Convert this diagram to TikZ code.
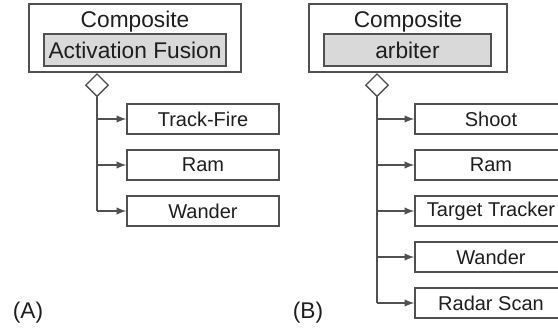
\documentclass[tikz,border=0pt]{standalone}
\usepackage{fontspec}
\setmainfont{Liberation Sans}
\usepackage{xcolor}
\usetikzlibrary{arrows}
\usetikzlibrary{shapes.geometric}
\usetikzlibrary{positioning}
\definecolor{linegray}{HTML}{505050}
\definecolor{boxgray}{HTML}{D9D9D9}
\definecolor{textgray}{HTML}{1E1E1E}
\begin{document}
\begin{tikzpicture}[x=0.5pt,y=-0.5pt,->,>=latex,node distance=23pt,line width=0.7pt,
  font=\fontsize{11.35}{13}\selectfont,text=textgray,draw=linegray]
	\tikzstyle{outer}=[draw=linegray, -, minimum height=34pt, inner sep=0pt]
	\tikzstyle{inner}=[draw=linegray, fill=boxgray, minimum height=16pt, inner sep=0pt]
	\tikzstyle{child}=[draw=linegray, minimum width=76pt, minimum height=15pt, inner sep=0pt,
	  font=\fontsize{10}{12}\selectfont]
	\tikzstyle{agg}=[draw=linegray, fill=white, diamond, aspect=1, minimum size=11.5pt, inner sep=0pt]
	\clip (0,0) rectangle (558,329);
	% (A)
	\node[outer, minimum width=106pt] (CA) at (135,38) {};
	\node[anchor=base] (CAt) at (135,27) {Composite};
	\node[inner, minimum width=91pt] (AF) at (135,50) {Activation Fusion};
	\node[agg, anchor=north] (DA) at (97,73) {};
	\node[child] (TF) at (203,119) {Track-Fire};
	\node[child] (RA) [below of=TF] {Ram};
	\node[child] (WA) [below of=RA] {Wander};
	\draw[-] (DA.south) -- (DA.south |- WA.west);
	\draw[->] (DA.south |- TF.west) -- (TF.west);
	\draw[->] (DA.south |- RA.west) -- (RA.west);
	\draw[->] (DA.south |- WA.west) -- (WA.west);
	\node (LA) at (28,313) {(A)};
	% (B)
	\node[outer, minimum width=99pt] (CB) at (408,38) {};
	\node[anchor=base] (CBt) at (408,27) {Composite};
	\node[inner, minimum width=83.5pt] (AR) at (407.5,50) {arbiter};
	\node[agg, anchor=north] (DB) at (377,73) {};
	\node[child] (SH) at (491,119) {Shoot};
	\node[child] (RB) [below of=SH] {Ram};
	\node[child] (TT) [below of=RB] {Target Tracker};
	\node[child] (WB) [below of=TT] {Wander};
	\node[child] (RS) [below of=WB] {Radar Scan};
	\draw[-] (DB.south) -- (DB.south |- RS.west);
	\draw[->] (DB.south |- SH.west) -- (SH.west);
	\draw[->] (DB.south |- RB.west) -- (RB.west);
	\draw[->] (DB.south |- TT.west) -- (TT.west);
	\draw[->] (DB.south |- WB.west) -- (WB.west);
	\draw[->] (DB.south |- RS.west) -- (RS.west);
	\node (LB) at (308,313) {(B)};
\end{tikzpicture}
\end{document}
